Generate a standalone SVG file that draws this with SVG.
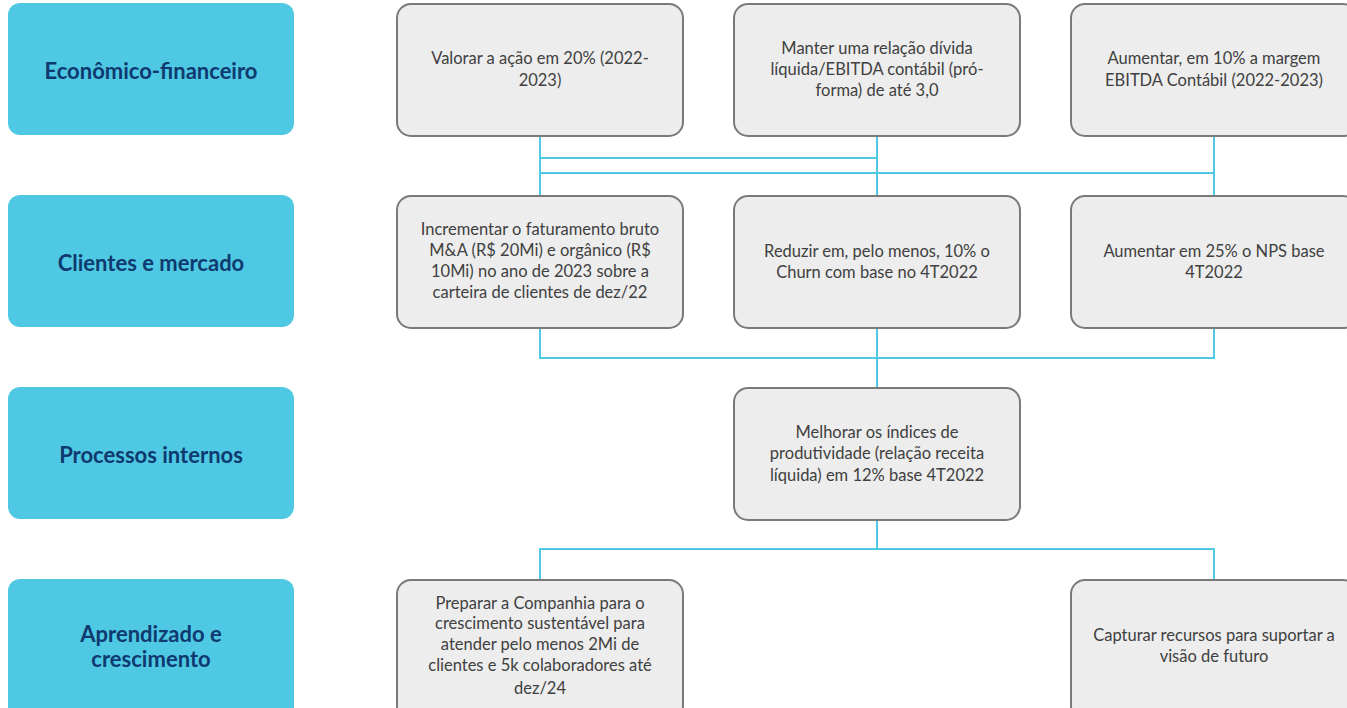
<svg xmlns="http://www.w3.org/2000/svg" width="1347" height="708" viewBox="0 0 1347 708">
<style>
.cat rect{fill:#4fc8e3;}
.cat text{font-family:Lato,"Liberation Sans",sans-serif;font-weight:bold;font-size:22px;fill:#0e3a70;text-anchor:middle;}
.obj rect{fill:#ededed;stroke:#7a7a7a;stroke-width:2;}
.obj text{font-family:Lato,"Liberation Sans",sans-serif;font-size:16.5px;fill:#404040;text-anchor:middle;}
#connectors path{fill:none;stroke:#4fc8e3;stroke-width:2;}
</style>
<rect width="1347" height="708" fill="#fff"/>
<g id="connectors">
<path d="M540 136V196M877 136V196M1214 136V196M540 158H877M540 173H1214"/>
<path d="M540 328V358H1214V328M877 328V388"/>
<path d="M877 520V549M540 580V549H1214V580"/>
</g>
<g id="cat1" class="cat"><rect x="8" y="3" width="286" height="132" rx="12"/><text x="151" y="79">Econômico-financeiro</text></g>
<g id="cat2" class="cat"><rect x="8" y="195" width="286" height="132" rx="12"/><text x="151" y="271">Clientes e mercado</text></g>
<g id="cat3" class="cat"><rect x="8" y="387" width="286" height="132" rx="12"/><text x="151" y="463">Processos internos</text></g>
<g id="cat4" class="cat"><rect x="8" y="579" width="286" height="140" rx="12"/><text x="151" y="642">Aprendizado e</text><text x="151" y="667">crescimento</text></g>
<g id="o1" class="obj"><rect x="397" y="4" width="286" height="132" rx="14"/><text x="540" y="64">Valorar a ação em 20% (2022-</text><text x="540" y="86">2023)</text></g>
<g id="o2" class="obj"><rect x="734" y="4" width="286" height="132" rx="14"/><text x="877" y="54">Manter uma relação dívida</text><text x="877" y="75">líquida/EBITDA contábil (pró-</text><text x="877" y="96">forma) de até 3,0</text></g>
<g id="o3" class="obj"><rect x="1071" y="4" width="286" height="132" rx="14"/><text x="1214" y="64">Aumentar, em 10% a margem</text><text x="1214" y="86">EBITDA Contábil (2022-2023)</text></g>
<g id="o4" class="obj"><rect x="397" y="196" width="286" height="132" rx="14"/><text x="540" y="235">Incrementar o faturamento bruto</text><text x="540" y="256">M&amp;A (R$ 20Mi) e orgânico (R$</text><text x="540" y="277">10Mi) no ano de 2023 sobre a</text><text x="540" y="298">carteira de clientes de dez/22</text></g>
<g id="o5" class="obj"><rect x="734" y="196" width="286" height="132" rx="14"/><text x="877" y="257">Reduzir em, pelo menos, 10% o</text><text x="877" y="278">Churn com base no 4T2022</text></g>
<g id="o6" class="obj"><rect x="1071" y="196" width="286" height="132" rx="14"/><text x="1214" y="257">Aumentar em 25% o NPS base</text><text x="1214" y="278">4T2022</text></g>
<g id="o7" class="obj"><rect x="734" y="388" width="286" height="132" rx="14"/><text x="877" y="438">Melhorar os índices de</text><text x="877" y="459">produtividade (relação receita</text><text x="877" y="481">líquida) em 12% base 4T2022</text></g>
<g id="o8" class="obj"><rect x="397" y="580" width="286" height="140" rx="14"/><text x="540" y="609">Preparar a Companhia para o</text><text x="540" y="629">crescimento sustentável para</text><text x="540" y="650">atender pelo menos 2Mi de</text><text x="540" y="671">clientes e 5k colaboradores até</text><text x="540" y="694">dez/24</text></g>
<g id="o9" class="obj"><rect x="1071" y="580" width="286" height="140" rx="14"/><text x="1214" y="641">Capturar recursos para suportar a</text><text x="1214" y="662">visão de futuro</text></g>
</svg>
